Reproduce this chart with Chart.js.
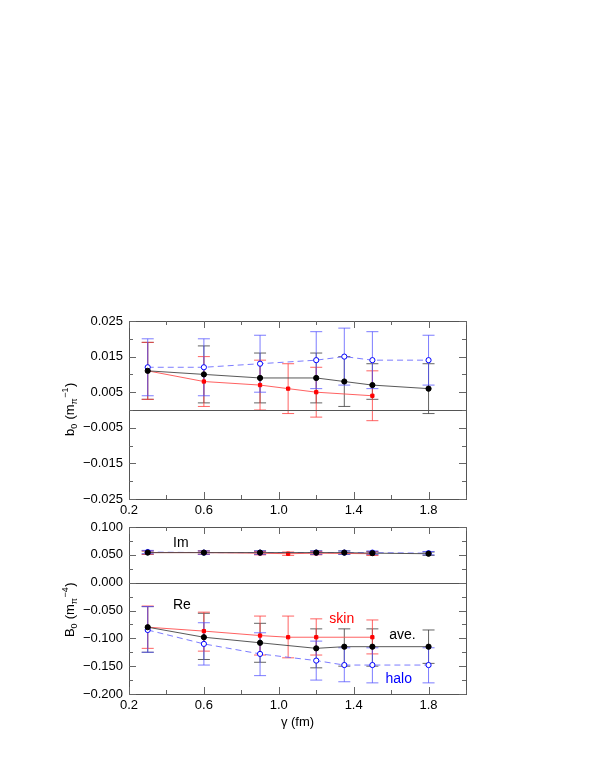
<!DOCTYPE html>
<html><head><meta charset="utf-8">
<script src="https://cdn.jsdelivr.net/npm/chart.js@4"></script>
<style>body{margin:0;background:#fff;width:595px;height:770px;position:relative}
canvas{position:absolute;left:0}</style></head><body>
<div style="position:absolute;left:0;top:301px;width:595px;height:223px"><canvas id="c1"></canvas></div>
<div style="position:absolute;left:0;top:507px;width:595px;height:227px"><canvas id="c2"></canvas></div>
<script>
// ---- top panel b0 ----
const aveX=[0.3,0.6,0.9,1.2,1.35,1.5,1.8];
const aveB=[0.011,0.010,0.009,0.009,0.008,0.007,0.006];
const aveBLo=[0.003,0.002,0.002,0.002,0.001,0.003,-0.001];
const aveBHi=[0.019,0.018,0.016,0.016,0.015,0.013,0.013];
const skinX=[0.3,0.6,0.9,1.05,1.2,1.5];
const skinB=[0.011,0.008,0.007,0.006,0.005,0.004];
const skinBLo=[0.003,0.001,0.0,-0.001,-0.002,-0.003];
const skinBHi=[0.019,0.015,0.014,0.013,0.012,0.011];
const haloX=[0.3,0.6,0.9,1.2,1.35,1.5,1.8];
const haloB=[0.012,0.012,0.013,0.014,0.015,0.014,0.014];
const haloBLo=[0.004,0.004,0.005,0.006,0.007,0.006,0.007];
const haloBHi=[0.020,0.020,0.021,0.022,0.023,0.022,0.021];
// ---- bottom panel B0 ----
const aveIm=[0.054,0.054,0.054,0.054,0.054,0.053,0.052];
const skinIm=[0.054,0.054,0.053,0.052,0.053,0.052];
const haloIm=[0.055,0.054,0.054,0.054,0.054,0.054,0.053];
const aveRe=[-0.080,-0.098,-0.108,-0.118,-0.115,-0.115,-0.115];
const aveReLo=[-0.125,-0.138,-0.143,-0.153,-0.150,-0.150,-0.145];
const aveReHi=[-0.043,-0.055,-0.073,-0.083,-0.083,-0.083,-0.085];
const skinRe=[-0.080,-0.087,-0.095,-0.098,-0.098,-0.098];
const skinReLo=[-0.118,-0.123,-0.130,-0.135,-0.130,-0.128];
const skinReHi=[-0.042,-0.053,-0.060,-0.060,-0.065,-0.067];
const haloRe=[-0.085,-0.110,-0.128,-0.140,-0.148,-0.148,-0.148];
const haloReLo=[-0.125,-0.148,-0.167,-0.175,-0.178,-0.180,-0.180];
const haloReHi=[-0.043,-0.072,-0.090,-0.105,-0.117,-0.117,-0.117];
const xTicks=[0.2,0.6,1.0,1.4,1.8];
const topTicks=[-0.025,-0.015,-0.005,0.005,0.015,0.025];
const botTicks=[-0.2,-0.15,-0.1,-0.05,0,0.05,0.1];

const RED='#ff0000',BLUE='#0000ff',BLK='#000000';
const FONT='"Liberation Sans", Arial, sans-serif';
function pts(xs,ys){return xs.map((x,i)=>({x,y:ys[i]}));}
function ds(xs,ys,lo,hi,kind){
  const c=kind==='skin'?RED:kind==='halo'?BLUE:BLK;
  return {data:pts(xs,ys),lo,hi,ebColor:kind==='skin'?'rgba(255,60,60,0.8)':kind==='halo'?'rgba(80,80,255,0.75)':'rgba(60,60,60,0.8)',
    borderColor:kind==='skin'?'rgba(255,80,80,0.9)':kind==='halo'?'rgba(110,110,255,0.9)':'rgba(70,70,70,0.9)',
    borderWidth:1,borderDash:kind==='halo'?[6,4]:[],
    pointStyle:kind==='skin'?'rect':'circle',pointRadius:kind==='skin'?2.3:2.6,
    pointBackgroundColor:kind==='halo'?'#fff':c,pointBorderColor:kind==='halo'?BLUE:c,pointBorderWidth:1,
    showLine:true,tension:0,order:kind==='halo'?3:kind==='skin'?2:1};
}
const errPlugin={id:'err',beforeDatasetsDraw(ch){
  const c=ch.ctx,xs=ch.scales.x,ys=ch.scales.y;
  c.save();c.lineWidth=1;
  ch.data.datasets.forEach(d=>{ if(!d.lo)return; c.strokeStyle=d.ebColor;
    d.data.forEach((p,i)=>{const px=xs.getPixelForValue(p.x),a=ys.getPixelForValue(d.lo[i]),b=ys.getPixelForValue(d.hi[i]);
      c.beginPath();c.moveTo(px,a);c.lineTo(px,b);c.moveTo(px-6,a);c.lineTo(px+6,a);c.moveTo(px-6,b);c.lineTo(px+6,b);c.stroke();});});
  c.restore();
},afterDraw(ch){
  const c=ch.ctx,xs=ch.scales.x,ys=ch.scales.y,a=ch.chartArea,o=ch.options.plugins.err;
  c.save();c.strokeStyle='#555';c.lineWidth=1;
  c.strokeRect(a.left+0.5,a.top+0.5,a.right-a.left,a.bottom-a.top);
  c.beginPath();const z=Math.round(ys.getPixelForValue(0))+0.5;c.moveTo(a.left,z);c.lineTo(a.right,z);c.stroke();
  c.strokeStyle='#666';c.beginPath();
  for(let v=0.2;v<=2.0001;v+=0.2){const p=Math.round(xs.getPixelForValue(v))+0.5,L=(Math.round(v*10)%4===2)?7:4;
    c.moveTo(p,a.bottom);c.lineTo(p,a.bottom-L);c.moveTo(p,a.top);c.lineTo(p,a.top+L);}
  for(let k=0;k<=o.nMinor;k++){const v=ys.min+k*o.minor,p=Math.round(ys.getPixelForValue(v))+0.5,L=(k%2===0)?7:4;
    c.moveTo(a.left,p);c.lineTo(a.left+L,p);c.moveTo(a.right,p);c.lineTo(a.right-L,p);}
  c.stroke();
  // y title
  c.fillStyle='#000';c.translate(o.tx,(a.top+a.bottom)/2);c.rotate(-Math.PI/2);
  const parts=o.title;let w=0;
  parts.forEach(s=>{c.font=(s[1]?'9px ':'13px ')+FONT;w+=c.measureText(s[0]).width;});
  let x=-w/2;
  parts.forEach(s=>{c.font=(s[1]?'9px ':'13px ')+FONT;c.fillText(s[0],x,s[1]===1?3:s[1]===2?-6:0);x+=c.measureText(s[0]).width+(s[1]?0.5:0);});
  c.setTransform(1,0,0,1,0,0);c.restore();
  c.save();c.textBaseline='middle';
  (o.labels||[]).forEach(l=>{c.fillStyle=l[3];c.font='14px '+FONT;c.fillText(l[0],xs.getPixelForValue(l[1]),ys.getPixelForValue(l[2]));});
  c.restore();
}};
function opts(ymin,ymax,ticks,minor,nMinor,title,labels,xtitle,xh){
  return {responsive:true,maintainAspectRatio:false,animation:false,
    layout:{padding:{top:20,right:129,left:0,bottom:0}},
    plugins:{legend:{display:false},tooltip:{enabled:false},err:{minor,nMinor,title,labels,tx:74}},
    scales:{
      x:{type:'linear',min:0.2,max:2.0,grid:{display:false,drawTicks:false,tickLength:0},border:{display:false},
        afterBuildTicks:s=>{s.ticks=xTicks.map(v=>({value:v}));},
        afterFit:s=>{s.height=xh;},
        ticks:{color:'#000',font:{family:FONT,size:13},padding:4,callback:v=>v.toFixed(1),maxRotation:0},
        title:{display:!!xtitle,text:xtitle,color:'#000',font:{family:FONT,size:13},padding:{top:3}}},
      y:{type:'linear',min:ymin,max:ymax,grid:{display:false,drawTicks:false,tickLength:0},border:{display:false},
        afterBuildTicks:s=>{s.ticks=ticks.map(v=>({value:v}));},
        afterFit:s=>{s.width=129;},
        ticks:{color:'#000',font:{family:FONT,size:13},padding:6,callback:v=>(v<0?'\u2212':'')+Math.abs(v).toFixed(3)}}}};
}
new Chart(document.getElementById('c1'),{type:'scatter',
  data:{datasets:[ds(aveX,aveB,aveBLo,aveBHi,'ave'),ds(skinX,skinB,skinBLo,skinBHi,'skin'),ds(haloX,haloB,haloBLo,haloBHi,'halo')]},
  options:opts(-0.025,0.025,topTicks,0.005,10,[['b',0],['0',1],[' (m',0],['\u03c0',1],['\u22121',2],[')',0]],[],'',25),
  plugins:[errPlugin]});
const imLo=a=>a.map(v=>v-0.003),imHi=a=>a.map(v=>v+0.003);
new Chart(document.getElementById('c2'),{type:'scatter',
  data:{datasets:[ds(aveX,aveIm,imLo(aveIm),imHi(aveIm),'ave'),ds(skinX,skinIm,imLo(skinIm),imHi(skinIm),'skin'),ds(haloX,haloIm,imLo(haloIm),imHi(haloIm),'halo'),
    ds(aveX,aveRe,aveReLo,aveReHi,'ave'),ds(skinX,skinRe,skinReLo,skinReHi,'skin'),ds(haloX,haloRe,haloReLo,haloReHi,'halo')]},
  options:opts(-0.2,0.1,botTicks,0.025,12,[['B',0],['0',1],[' (m',0],['\u03c0',1],['\u22124',2],[')',0]],
    [['Im',0.435,0.071,'#000'],['Re',0.435,-0.041,'#000'],['skin',1.27,-0.066,RED],['ave.',1.59,-0.095,'#000'],['halo',1.57,-0.173,BLUE]],'\u03b3 (fm)',40),
  plugins:[errPlugin]});
</script></body></html>
